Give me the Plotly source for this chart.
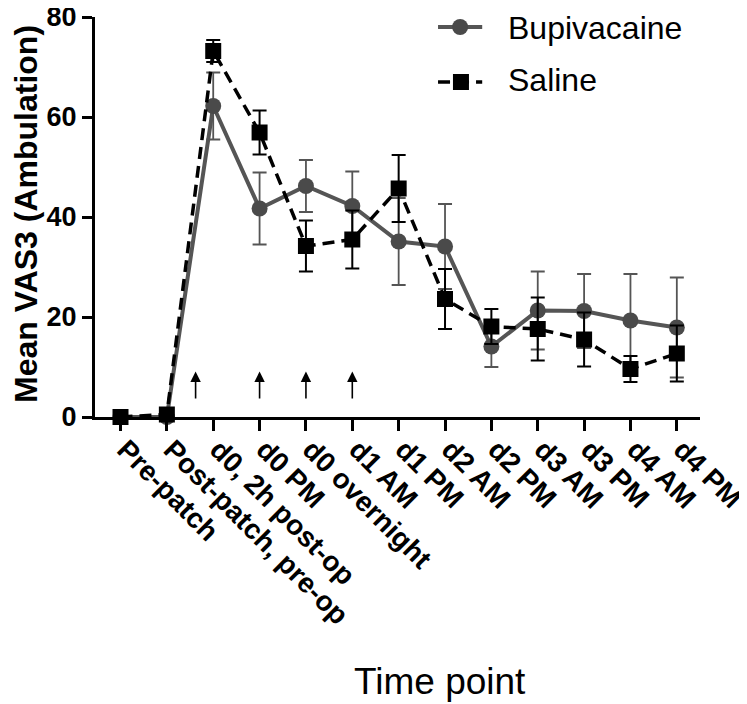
import plotly.graph_objects as go

# Time points on the x axis
time_points = ["Pre-patch", "Post-patch, pre-op", "d0, 2h post-op", "d0 PM",
               "d0 overnight", "d1 AM", "d1 PM", "d2 AM", "d2 PM",
               "d3 AM", "d3 PM", "d4 AM", "d4 PM"]

# Mean VAS3 and error (SEM) per group
bupi_mean = [0, 0, 62.2, 41.7, 46.2, 42.2, 35.1, 34.1, 14.1, 21.3, 21.2, 19.3, 17.9]
bupi_err = [0, 0, 6.7, 7.2, 5.2, 6.9, 8.7, 8.5, 4.1, 7.8, 7.4, 9.3, 10.0]
saline_mean = [0, 0.5, 73.2, 56.9, 34.2, 35.5, 45.7, 23.6, 18.1, 17.6, 15.5, 9.6, 12.7]
saline_err = [0, 0, 2.2, 4.4, 5.1, 5.8, 6.7, 6.0, 3.5, 6.3, 5.4, 2.6, 5.6]

# Arrows marking patch times (x in time-point index units)
arrow_x = [1.62, 3, 4, 5]
arrow_from, arrow_to = 3.4, 9.1

x_idx = list(range(len(time_points)))

BUPI_LINE = "#555555"
BUPI_MARK = "#4a4a4a"
SAL_DASH = "12px,7px"

fig = go.Figure()

fig.add_trace(go.Scatter(
    x=x_idx, y=bupi_mean, name="Bupivacaine",
    mode="lines+markers", cliponaxis=False,
    line=dict(color=BUPI_LINE, width=4),
    marker=dict(symbol="circle", size=16, color=BUPI_MARK),
    error_y=dict(type="data", array=bupi_err, color=BUPI_LINE, thickness=1.8, width=7),
))

fig.add_trace(go.Scatter(
    x=x_idx, y=saline_mean, name="Saline",
    mode="lines+markers", cliponaxis=False,
    line=dict(color="black", width=3.5, dash=SAL_DASH),
    marker=dict(symbol="square", size=16, color="black"),
    error_y=dict(type="data", array=saline_err, color="black", thickness=2, width=7),
))

# Patch arrows
for ax_ in arrow_x:
    fig.add_annotation(
        x=ax_, y=arrow_to, ax=ax_, ay=arrow_from, xref="x", yref="y",
        axref="x", ayref="y", text="", showarrow=True,
        arrowhead=2, arrowsize=1.3, arrowwidth=1.6, arrowcolor="black",
    )

# Legend drawn by hand (plotly's legend pushes the margins when placed up there)
# Bupivacaine: solid grey line with a circle
fig.add_shape(type="line", xref="paper", yref="paper", x0=0.567, x1=0.640,
              y0=0.975, y1=0.975, line=dict(color=BUPI_LINE, width=4))
fig.add_shape(type="circle", xref="paper", yref="paper", xsizemode="pixel",
              ysizemode="pixel", xanchor=0.6035, yanchor=0.975,
              x0=-8, x1=8, y0=-8, y1=8, fillcolor=BUPI_MARK, line=dict(width=0))
# Saline: dashed black line with a square
fig.add_shape(type="line", xref="paper", yref="paper", x0=0.567, x1=0.640,
              y0=0.8375, y1=0.8375, line=dict(color="black", width=3.5, dash=SAL_DASH))
fig.add_shape(type="rect", xref="paper", yref="paper", xsizemode="pixel",
              ysizemode="pixel", xanchor=0.6049, yanchor=0.8375,
              x0=-8, x1=8, y0=-8, y1=8, fillcolor="black", line=dict(width=0))
for name, ty in [("Bupivacaine", 0.972), ("Saline", 0.843)]:
    fig.add_annotation(
        text=name, xref="paper", yref="paper", x=0.679, y=ty,
        xanchor="left", yanchor="middle", showarrow=False,
        font=dict(family="Liberation Sans", size=32, color="black"),
    )

# Axis titles as annotations
fig.add_annotation(
    text="Time point", xref="paper", yref="paper", x=0.57, y=-0.66,
    yanchor="middle", showarrow=False,
    font=dict(family="Liberation Sans", size=37, color="black"),
)
fig.add_annotation(
    text="<b>Mean VAS3 (Ambulation)</b>", xref="paper", yref="paper",
    x=-0.114, y=0.5075, textangle=-90, xanchor="center", yanchor="middle",
    showarrow=False, font=dict(family="Liberation Sans", size=32, color="black"),
)

# page body adds an 8px margin, so the figure is 8px smaller each way
fig.update_layout(
    width=739, height=696,
    margin=dict(l=87, r=47, t=9, b=287),
    plot_bgcolor="white", paper_bgcolor="white",
    font=dict(family="Liberation Sans", color="black"),
    showlegend=False,
    xaxis=dict(
        range=[-0.55, 12.5], tickvals=x_idx, ticktext=time_points,
        tickangle=45, showline=True, linewidth=3, linecolor="black",
        ticks="outside", ticklen=11, tickwidth=3, tickcolor="black",
        showgrid=False, zeroline=False, automargin=False,
        ticklabelshift=5, ticklabelstandoff=-9, ticklabeloverflow="allow",
        tickfont=dict(size=28, family="Liberation Sans", weight="bold"),
    ),
    yaxis=dict(
        range=[0, 80], dtick=20, showline=True, linewidth=3, linecolor="black",
        ticks="outside", ticklen=10, tickwidth=3, tickcolor="black",
        showgrid=False, zeroline=False, automargin=False,
        ticklabeloverflow="allow",
        tickfont=dict(size=27, family="Liberation Sans", weight="bold"),
    ),
)

fig.write_html("out.html")
